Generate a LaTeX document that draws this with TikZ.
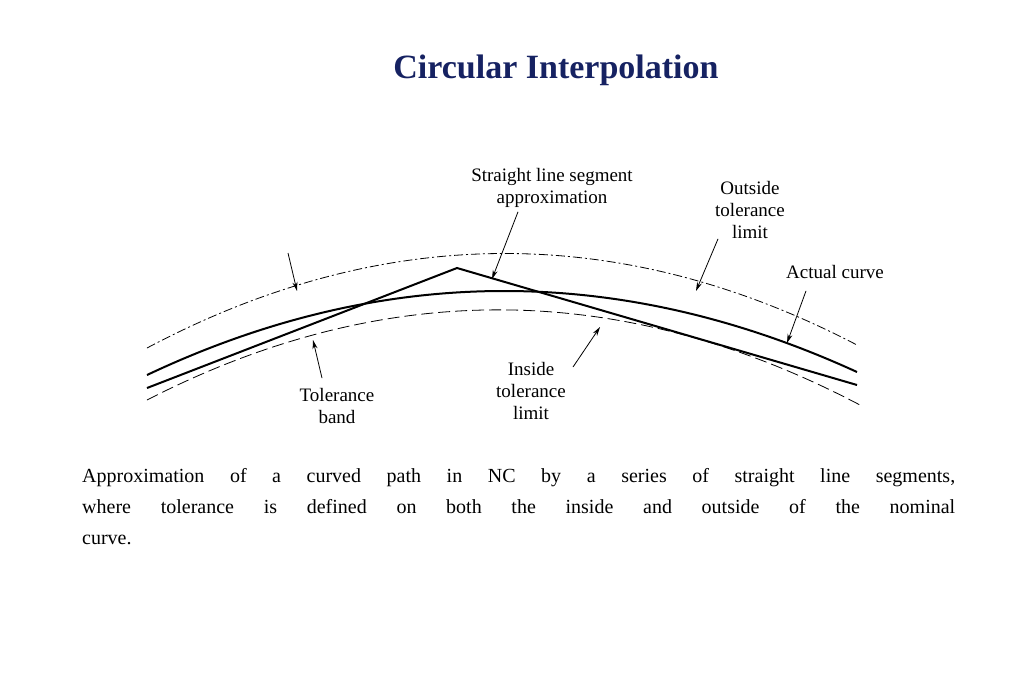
\documentclass[tikz,border=0pt]{standalone}
\usepackage{fontspec}
\setmainfont{Liberation Serif}
\usetikzlibrary{arrows.meta}
\definecolor{titleblue}{RGB}{22,34,98}
\tikzset{
  lbl/.style={align=center, font=\fontsize{19}{22}\selectfont, inner sep=0pt},
  curve/.style={line width=2pt},
  pointer/.style={thick, -{Stealth[length=9pt,width=5pt]}}
}
\begin{document}
\begin{tikzpicture}[x=1pt, y=-1pt]
\useasboundingbox (0,0) rectangle (1024,683);

\node[font=\fontsize{34}{38}\selectfont\bfseries, text=titleblue] (title) at (556,70) {Circular Interpolation};

% tolerance limits
\draw[thick, dash pattern=on 9pt off 3pt on 2pt off 3pt] (147,348) .. controls (383,223) and (621,222) .. (857,345);
\draw[thick, dash pattern=on 12pt off 5pt] (147,400) .. controls (385,278) and (622,280) .. (860,405);

% actual curve and straight segments
\draw[curve] (147,375) .. controls (382,264) and (619,263) .. (857,372);
\draw[curve, line join=miter] (147,388) -- (457,268) -- (857,385);

% labels
\node[lbl] (seg) at (552,188) {Straight line segment\\approximation};
\node[lbl] (outlim) at (750,210) {Outside\\tolerance\\limit};
\node[lbl] (actual) at (835,272) {Actual curve};
\node[lbl] (band) at (337,406) {Tolerance\\band};
\node[lbl] (inlim) at (531,391) {Inside\\tolerance\\limit};

\coordinate (c1) at (297,291);
\coordinate (c2) at (492,279);
\coordinate (c3) at (696,291);
\coordinate (c4) at (787,343);
\coordinate (c5) at (313,340);
\coordinate (c6) at (600,327);
\coordinate (s1) at (288,253);
\coordinate (s6) at (573,367);

\draw[pointer] (s1) -- (c1);
\draw[pointer] (seg.south) ++(-34,4) -- (c2);
\draw[pointer] (outlim.south) ++(-32,0) -- (c3);
\draw[pointer] (actual.south) ++(-29,12) -- (c4);
\draw[pointer] (band.north) ++(-15,-10) -- (c5);
\draw[pointer] (s6) -- (c6);

% caption
\node[anchor=north west, text width=873pt, align=justify, inner sep=0pt,
      font=\fontsize{20}{31}\selectfont] (caption) at (82,468)
  {Approximation of a curved path in NC by a series of straight line segments,\linebreak
   where tolerance is defined on both the inside and outside of the nominal\linebreak curve.};
\end{tikzpicture}
\end{document}
